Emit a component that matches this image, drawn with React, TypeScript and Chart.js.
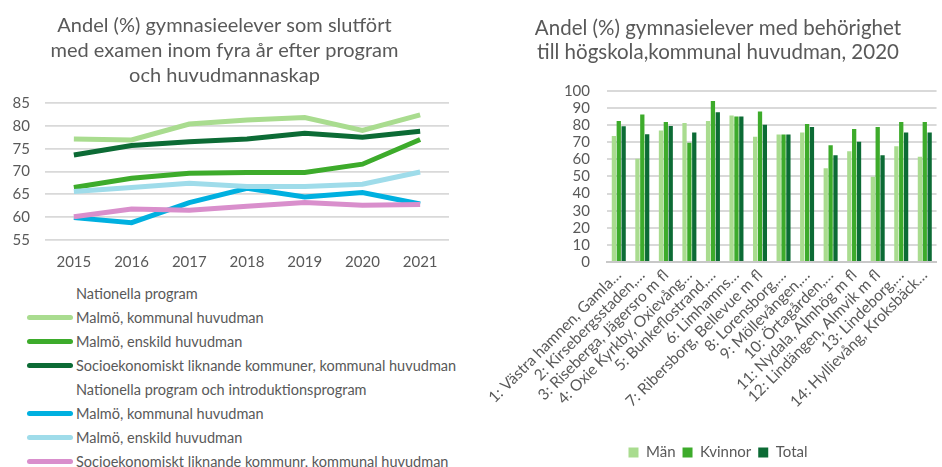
import React, { useEffect, useRef } from "react";
import { Chart, registerables } from "chart.js";

Chart.register(...registerables);

// ---------- Left chart data ----------
const years = ["2015", "2016", "2017", "2018", "2019", "2020", "2021"];
const natMalmoKommunal = [77.1, 76.9, 80.4, 81.3, 81.8, 79.0, 82.4];
const natMalmoEnskild = [66.5, 68.5, 69.6, 69.8, 69.8, 71.6, 77.0];
const natSocioKommunal = [73.6, 75.7, 76.5, 77.1, 78.4, 77.5, 78.8];
const introMalmoKommunal = [59.9, 58.8, 63.2, 66.3, 64.4, 65.4, 62.9];
const introMalmoEnskild = [65.6, 66.5, 67.4, 66.7, 66.7, 67.2, 69.9];
const introSocioKommunal = [60.1, 61.8, 61.5, 62.4, 63.2, 62.6, 62.8];
const leftTitle = [
  "Andel (%) gymnasieelever som slutfört",
  "med examen inom fyra år efter program",
  "och huvudmannaskap",
];

// ---------- Right chart data ----------
const areas = [
  "1: Västra hamnen, Gamla…",
  "2: Kirsebergsstaden,…",
  "3: Riseberga, Jägersro m fl",
  "4: Oxie Kyrkby, Oxievång…",
  "5: Bunkeflostrand,…",
  "6: Limhamns…",
  "7: Ribersborg, Bellevue m fl",
  "8: Lorensborg,…",
  "9: Möllevången,…",
  "10: Örtagården,…",
  "11: Nydala, Almhög m fl",
  "12: Lindängen, Almvik m fl",
  "13: Lindeborg,…",
  "14: Hyllievång, Kroksbäck…",
];
const man = [73.7, 60.4, 76.9, 81.3, 82.5, 85.7, 73.3, 74.5, 75.7, 54.8, 64.7, 49.8, 67.7, 61.6];
const kvinnor = [82.5, 86.3, 81.9, 69.7, 94.2, 85.1, 88.0, 74.5, 80.7, 68.3, 77.7, 78.9, 81.9, 81.9];
const total = [79.3, 74.7, 79.5, 75.7, 87.5, 85.1, 80.3, 74.5, 78.9, 62.4, 70.3, 62.4, 75.7, 75.7];
const rightTitle = [
  "Andel (%) gymnasielever med behörighet",
  "till högskola,kommunal huvudman, 2020",
];

const TEXT = "#595959";
const GRID = "#d9d9d9";
const FONT = "Lato, 'Open Sans', sans-serif";

const C_LIGHTGREEN = "#a9dc8f";
const C_GREEN = "#3dab2b";
const C_DARKGREEN = "#0c6b35";
const C_BLUE = "#00b0e0";
const C_LIGHTBLUE = "#9fdcea";
const C_PINK = "#d98fcc";

type LegendRow = { label: string; color?: string };
const legendRows: LegendRow[] = [
  { label: "Nationella program" },
  { label: "Malmö, kommunal huvudman", color: C_LIGHTGREEN },
  { label: "Malmö, enskild huvudman", color: C_GREEN },
  { label: "Socioekonomiskt liknande kommuner, kommunal huvudman", color: C_DARKGREEN },
  { label: "Nationella program och introduktionsprogram" },
  { label: "Malmö, kommunal huvudman", color: C_BLUE },
  { label: "Malmö, enskild huvudman", color: C_LIGHTBLUE },
  { label: "Socioekonomiskt liknande kommunr, kommunal huvudman", color: C_PINK },
];

function LineChart() {
  const ref = useRef<HTMLCanvasElement>(null);
  useEffect(() => {
    const mk = (label: string, data: number[], color: string) => ({
      label,
      data,
      borderColor: color,
      backgroundColor: color,
      borderWidth: 5,
      pointRadius: 0,
      tension: 0,
      fill: false,
    });
    const chart = new Chart(ref.current!, {
      type: "line",
      data: {
        labels: years,
        datasets: [
          mk("Nationella program – Malmö, kommunal huvudman", natMalmoKommunal, C_LIGHTGREEN),
          mk("Nationella program – Malmö, enskild huvudman", natMalmoEnskild, C_GREEN),
          mk("Nationella program – Socioekonomiskt liknande kommuner, kommunal huvudman", natSocioKommunal, C_DARKGREEN),
          mk("Nationella program och introduktionsprogram – Malmö, kommunal huvudman", introMalmoKommunal, C_BLUE),
          mk("Nationella program och introduktionsprogram – Malmö, enskild huvudman", introMalmoEnskild, C_LIGHTBLUE),
          mk("Nationella program och introduktionsprogram – Socioekonomiskt liknande kommunr, kommunal huvudman", introSocioKommunal, C_PINK),
        ].map((d, i) => ({ ...d, order: 10 - i })),
      },
      options: {
        responsive: false,
        animation: false,
        layout: { padding: { left: 0, right: 21, top: 0, bottom: 9 } },
        plugins: {
          legend: { display: false },
          tooltip: { enabled: false },
          title: {
            display: true,
            text: leftTitle,
            color: TEXT,
            font: { family: FONT, size: 20, weight: "normal", lineHeight: 1.25 },
            padding: { top: 13, bottom: 15 },
          },
        },
        scales: {
          x: {
            offset: true,
            grid: { display: false, drawTicks: false },
            border: { display: false },
            ticks: { color: TEXT, font: { family: FONT, size: 15 }, padding: 13 },
            afterFit: (s: any) => {
              s.height = 31;
            },
          },
          y: {
            min: 55,
            max: 85,
            ticks: {
              stepSize: 5,
              autoSkip: false,
              color: TEXT,
              font: { family: FONT, size: 15 },
              padding: 15,
            },
            grid: { color: GRID, lineWidth: 1.7, drawTicks: false },
            border: { display: false },
            afterFit: (s: any) => {
              s.width = 45;
            },
          },
        },
      },
    });
    return () => chart.destroy();
  }, []);
  return <canvas ref={ref} width={470} height={280} style={{ display: "block" }} />;
}

function BarChart() {
  const ref = useRef<HTMLCanvasElement>(null);
  useEffect(() => {
    const chart = new Chart(ref.current!, {
      type: "bar",
      data: {
        labels: areas,
        datasets: [
          { label: "Män", data: man, backgroundColor: C_LIGHTGREEN },
          { label: "Kvinnor", data: kvinnor, backgroundColor: C_GREEN },
          { label: "Total", data: total, backgroundColor: C_DARKGREEN },
        ],
      },
      options: {
        responsive: false,
        animation: false,
        datasets: { bar: { categoryPercentage: 0.62, barPercentage: 0.88 } },
        layout: { padding: { left: 26, right: 2, top: 0, bottom: -3 } },
        plugins: {
          tooltip: { enabled: false },
          title: {
            display: true,
            text: rightTitle,
            color: TEXT,
            font: { family: FONT, size: 20.5, weight: "normal", lineHeight: 1.17 },
            padding: { top: 16, bottom: 27 },
          },
          legend: {
            position: "bottom",
            labels: {
              boxWidth: 10,
              boxHeight: 10,
              color: TEXT,
              font: { family: FONT, size: 15 },
              padding: 7,
            },
          },
        },
        scales: {
          x: {
            grid: { display: false, drawTicks: false },
            border: { display: true, color: "#c8c8c8", width: 2 },
            ticks: {
              autoSkip: false,
              minRotation: 45,
              maxRotation: 45,
              color: TEXT,
              font: { family: FONT, size: 15.5 },
              padding: 4,
            },
            afterFit: (s: any) => {
              s.height = 176;
            },
          },
          y: {
            min: 0,
            max: 100,
            ticks: {
              stepSize: 10,
              autoSkip: false,
              color: TEXT,
              font: { family: FONT, size: 15 },
              padding: 17,
            },
            grid: { color: GRID, lineWidth: 2, drawTicks: false },
            border: { display: false },
            afterFit: (s: any) => {
              s.width = 111;
            },
          },
        },
      },
    });
    return () => chart.destroy();
  }, []);
  return <canvas ref={ref} width={472} height={467} style={{ display: "block" }} />;
}

function HtmlLegend() {
  return (
    <div style={{ position: "absolute", left: 0, top: 281, width: 470 }}>
      {legendRows.map((r, i) => (
        <div
          key={i}
          style={{
            position: "absolute",
            left: 0,
            top: i * 24,
            height: 24,
            width: 470,
            display: "flex",
            alignItems: "center",
            fontFamily: FONT,
            fontSize: 14.5,
            color: TEXT,
            whiteSpace: "nowrap",
          }}
        >
          <div
            style={{
              position: "absolute",
              left: 27,
              width: 46,
              height: 5,
              borderRadius: 3,
              background: r.color || "transparent",
            }}
          />
          <span style={{ position: "absolute", left: 76 }}>{r.label}</span>
        </div>
      ))}
    </div>
  );
}

export default function App() {
  return (
    <div
      style={{
        position: "fixed",
        left: 0,
        top: 0,
        width: 942,
        height: 467,
        background: "#fff",
        overflow: "hidden",
      }}
    >
      <div style={{ position: "absolute", left: 0, top: 0 }}>
        <LineChart />
      </div>
      <HtmlLegend />
      <div style={{ position: "absolute", left: 470, top: 0 }}>
        <BarChart />
      </div>
    </div>
  );
}
